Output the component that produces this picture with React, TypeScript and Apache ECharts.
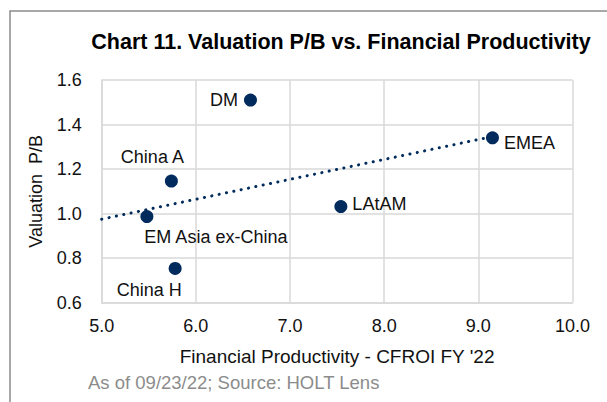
import React, { useEffect, useRef } from "react";
import * as echarts from "echarts";

const regions = ["DM", "EMEA", "China A", "LAtAM", "EM Asia ex-China", "China H"];
const cfroi = [6.58, 9.15, 5.74, 7.54, 5.48, 5.78];
const priceToBook = [1.51, 1.34, 1.146, 1.031, 0.986, 0.753];
const xTicks = { min: 5, max: 10, interval: 1 };
const yTicks = { min: 0.6, max: 1.6, interval: 0.2 };

const labelPlacement: Record<string, any> = {
  DM: { position: "left", distance: 6, offset: [0, 0] },
  EMEA: { position: "right", distance: 5, offset: [0, 5] },
  "China A": { position: "top", distance: 5, offset: [-19, -4] },
  LAtAM: { position: "right", distance: 5, offset: [0, -3] },
  "EM Asia ex-China": { position: "bottom", distance: 5, offset: [69, 0] },
  "China H": { position: "bottom", distance: 5, offset: [-26, 1] },
};

function regression(xs: number[], ys: number[]) {
  const n = xs.length;
  const mx = xs.reduce((a, b) => a + b, 0) / n;
  const my = ys.reduce((a, b) => a + b, 0) / n;
  let sxy = 0;
  let sxx = 0;
  for (let i = 0; i < n; i++) {
    sxy += (xs[i] - mx) * (ys[i] - my);
    sxx += (xs[i] - mx) * (xs[i] - mx);
  }
  const slope = sxy / sxx;
  return { slope, intercept: my - slope * mx };
}

export default function App() {
  const ref = useRef<HTMLDivElement>(null);
  useEffect(() => {
    if (!ref.current) return;
    const chart = echarts.init(ref.current, undefined, { renderer: "svg" });
    const { slope, intercept } = regression(cfroi, priceToBook);
    const xEnd = Math.max(...cfroi);
    const trend = [
      [xTicks.min, intercept + slope * xTicks.min],
      [xEnd, intercept + slope * xEnd],
    ];
    const font = "Arial, 'Liberation Sans', sans-serif";
    const gridColor = "#d9d9d9";
    chart.setOption({
      animation: false,
      textStyle: { fontFamily: font },
      title: {
        text: "Chart 11. Valuation P/B vs. Financial Productivity",
        left: 336,
        top: 26,
        textAlign: "center",
        textStyle: { fontFamily: font, fontSize: 21.5, fontWeight: "bold", color: "#000" },
      },
      graphic: [
        {
          type: "rect",
          shape: { x: 10, y: 11, width: 800, height: 600 },
          style: { fill: "none", stroke: "#8c8c8c", lineWidth: 1.5 },
          silent: true,
        },
        {
          type: "text",
          x: 88,
          y: 382,
          style: {
            text: "As of 09/23/22; Source: HOLT Lens",
            fill: "#8c8c8c",
            font: "18.5px Arial, 'Liberation Sans', sans-serif",
            textVerticalAlign: "middle",
          },
        },
      ],
      grid: { left: 101.7, right: 34.5, top: 80, bottom: 99.5, containLabel: false },
      xAxis: {
        type: "value",
        min: xTicks.min,
        max: xTicks.max,
        interval: xTicks.interval,
        name: "Financial Productivity - CFROI FY '22",
        nameLocation: "middle",
        nameGap: 44,
        nameTextStyle: { fontSize: 19, color: "#111", fontFamily: font },
        axisLine: { show: true, lineStyle: { color: gridColor, width: 1.5 } },
        axisTick: { show: false },
        axisLabel: {
          fontSize: 18,
          color: "#111",
          margin: 14,
          formatter: (v: number) => v.toFixed(1),
        },
        splitLine: { show: true, lineStyle: { color: gridColor, width: 1.5 } },
      },
      yAxis: {
        type: "value",
        min: yTicks.min,
        max: yTicks.max,
        interval: yTicks.interval,
        name: "Valuation  P/B",
        nameLocation: "middle",
        nameGap: 57,
        nameTextStyle: { fontSize: 18, color: "#111", fontFamily: font },
        axisLine: { show: true, lineStyle: { color: gridColor, width: 1.5 } },
        axisTick: { show: false },
        axisLabel: {
          fontSize: 18,
          color: "#111",
          margin: 20,
          formatter: (v: number) => v.toFixed(1),
        },
        splitLine: { show: true, lineStyle: { color: gridColor, width: 1.5 } },
      },
      series: [
        {
          type: "line",
          data: trend,
          symbol: "none",
          silent: true,
          lineStyle: { color: "#002b5c", width: 3, type: [0.1, 7.4], cap: "round" },
          z: 2,
        },
        {
          type: "scatter",
          symbolSize: 13,
          itemStyle: { color: "#002b5c", opacity: 1 },
          z: 3,
          data: regions.map((name, i) => {
            const p = labelPlacement[name];
            return {
              name,
              value: [cfroi[i], priceToBook[i]],
              label: {
                show: true,
                formatter: name,
                position: p.position,
                distance: p.distance,
                offset: p.offset,
                fontSize: 18,
                color: "#111",
                fontFamily: font,
              },
            };
          }),
        },
      ],
    });
    return () => chart.dispose();
  }, []);
  return (
    <div
      ref={ref}
      style={{ position: "absolute", left: 0, top: 0, width: 607, height: 402, background: "#fff" }}
    />
  );
}
